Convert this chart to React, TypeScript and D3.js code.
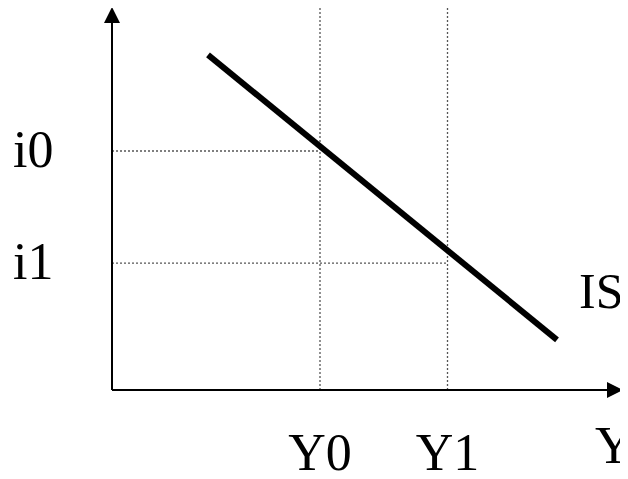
import React from "react";
import * as d3 from "d3";

const W = 628;
const H = 479;
const PAGE_MARGIN = 8;

// Model units
const xDomain = [0, 100];
const yDomain = [0, 100];
const axisMaxX = 102.2;
const axisMaxY = 100.8;
const isCurve: [number, number][] = [
  [19.2, 88.2],
  [89.0, 13.2],
];
const yLevels = [41.6, 67.1]; // Y0, Y1
const yLabels = ["Y0", "Y1"];
const iLevels = [62.9, 33.4]; // i0, i1
const iLabels = ["i0", "i1"];

const TXT: React.CSSProperties = {
  fontFamily: "Times New Roman",
  fontSize: "52px",
  fill: "#000",
};

export default function App() {
  const x = d3.scaleLinear().domain(xDomain).range([112, 612]);
  const y = d3.scaleLinear().domain(yDomain).range([390, 10]);
  const line = d3
    .line<[number, number]>()
    .x((d) => x(d[0]))
    .y((d) => y(d[1]));
  const x0 = x(0);
  const y0 = y(0);
  const xTip = x(axisMaxX);
  const yTip = y(axisMaxY);
  return (
    <svg
      width={W - PAGE_MARGIN}
      height={H - PAGE_MARGIN}
      style={{ display: "block", fontFamily: "Times New Roman", overflow: "visible" }}
    >
      <g transform={`translate(${-PAGE_MARGIN},${-PAGE_MARGIN})`}>
        <rect x={0} y={0} width={W} height={H} fill="#fff" />
        {/* dotted guides */}
        {yLevels.map((v, i) => (
          <line
            key={"v" + i}
            x1={x(v)}
            x2={x(v)}
            y1={0}
            y2={y0}
            stroke="#555"
            strokeWidth={1.3}
            strokeDasharray="2,2"
          />
        ))}
        {iLevels.map((v, i) => (
          <line
            key={"h" + i}
            x1={x0}
            x2={x(yLevels[i])}
            y1={y(v)}
            y2={y(v)}
            stroke="#555"
            strokeWidth={1.3}
            strokeDasharray="2,2"
          />
        ))}
        {/* axes */}
        <line x1={x0} x2={x0} y1={y0} y2={yTip + 14} stroke="#000" strokeWidth={2} />
        <path
          d={`M${x0},${yTip} L${x0 - 8},${yTip + 16} L${x0 + 8},${yTip + 16} Z`}
          fill="#000"
        />
        <line x1={x0} x2={xTip - 14} y1={y0} y2={y0} stroke="#000" strokeWidth={2} />
        <path
          d={`M${xTip},${y0} L${xTip - 16},${y0 - 8} L${xTip - 16},${y0 + 8} Z`}
          fill="#000"
        />
        {/* IS curve */}
        <path d={line(isCurve) || ""} stroke="#000" strokeWidth={6} fill="none" />
        {/* labels */}
        {iLabels.map((t, i) => (
          <text key={t} x={13} y={y(iLevels[i]) + 16} style={TXT}>
            {t}
          </text>
        ))}
        {yLabels.map((t, i) => (
          <text key={t} x={x(yLevels[i])} y={470} textAnchor="middle" style={TXT}>
            {t}
          </text>
        ))}
        <text x={595} y={463} style={TXT}>
          Y
        </text>
        <text x={579} y={308} style={{ ...TXT, fontSize: "50px" }}>
          IS
        </text>
      </g>
    </svg>
  );
}
